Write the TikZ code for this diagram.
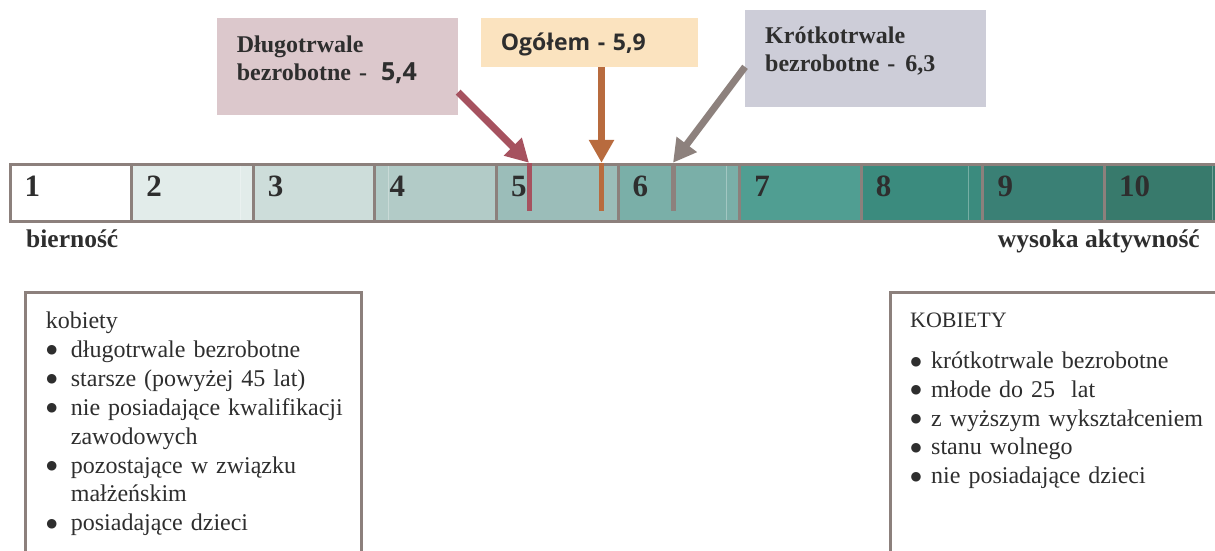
\documentclass[tikz,border=0pt]{standalone}
\usepackage{fontspec}
\setmainfont{Liberation Serif}
\newfontfamily\ogsans{Open Sans}
\newfontfamily\dotfont{DejaVu Sans}
\usetikzlibrary{arrows.meta}

\definecolor{frame}{HTML}{8C807C}
\definecolor{ink}{HTML}{2E2E2E}
\definecolor{cellA}{HTML}{FFFFFF}
\definecolor{cellB}{HTML}{E2ECEA}
\definecolor{cellC}{HTML}{CDDDDA}
\definecolor{cellD}{HTML}{B2CBC7}
\definecolor{cellE}{HTML}{9BBDB9}
\definecolor{cellF}{HTML}{7AAFA8}
\definecolor{cellG}{HTML}{509E92}
\definecolor{cellH}{HTML}{3B8B7E}
\definecolor{cellI}{HTML}{3A8075}
\definecolor{cellJ}{HTML}{387A6C}
\definecolor{redm}{HTML}{A6525F}
\definecolor{orangem}{HTML}{B86B3E}
\definecolor{graym}{HTML}{8D817D}
\definecolor{dlugoFill}{HTML}{DCC8CC}
\definecolor{ogolemFill}{HTML}{FBE3BF}
\definecolor{krotkoFill}{HTML}{CDCDD8}

\newcommand{\pkt}[1][25pt]{\makebox[#1][l]{\hspace*{0.5pt}\raisebox{3.5pt}{\dotfont\fontsize{12.5}{12.5}\selectfont ●}}}

\begin{document}
\begin{tikzpicture}[x=1pt, y=-1pt,
  cellnum/.style={font=\fontsize{31}{31}\selectfont\bfseries, text=ink, inner sep=0pt, anchor=base west},
  callout/.style={draw=none, inner sep=0pt, anchor=north west},
  calltext/.style={font=\fontsize{24}{28.3}\selectfont\bfseries, text=ink, inner sep=0pt, anchor=base west, align=left, text width=230pt},
  marker/.style={minimum width=5pt, minimum height=48pt, inner sep=0pt},
  pointer/.style={line width=7pt, -{Triangle[length=23pt, width=24pt]}},
  scaletext/.style={font=\fontsize{25.5}{25.5}\selectfont\bfseries, text=ink, inner sep=0pt},
  listtext/.style={font=\fontsize{24}{28.9}\selectfont, text=ink, inner sep=0pt, anchor=base west, align=left, text width=310pt},
]
\useasboundingbox (0,0) rectangle (1215,551);
\clip (0,0) rectangle (1215,551);

% skala 1-10
\foreach \n/\col in {1/cellA,2/cellB,3/cellC,4/cellD,5/cellE,6/cellF,7/cellG,8/cellH,9/cellI,10/cellJ}
{
    \pgfmathsetmacro{\xl}{10+121.6*(\n-1)}
    \pgfmathsetmacro{\xr}{\xl+121.6}
    \filldraw[fill=\col, draw=frame, line width=3pt] (\xl,164) rectangle (\xr,221.5);
    \node[cellnum] (n\n) at (\xl+14.5,196) {\n};
}
\foreach \x in {240,388,726,968,1212}
{
    \draw[white, opacity=.3, line width=1pt] (\x,165.5) -- (\x,220);
}

\node[scaletext, anchor=base west] (passive) at (26,247) {bierność};
\node[scaletext, anchor=base east] (active) at (1200,247) {wysoka aktywność};

% znaczniki
\node[marker, fill=redm] (m54) at (529,187) {};
\node[marker, fill=orangem] (m59) at (601.5,187) {};
\node[marker, fill=graym] (m63) at (673,187) {};

% opisy
\node[callout, fill=dlugoFill, minimum width=240.7pt, minimum height=96.7pt] (dlugo) at (217,18.3) {};
\node[callout, fill=ogolemFill, minimum width=216.7pt, minimum height=48.4pt] (ogolem) at (481,18.3) {};
\node[callout, fill=krotkoFill, minimum width=241pt, minimum height=96.7pt] (krotko) at (745,10) {};

\node[calltext] (dlugoTxt) at (236.7,52.5) {Długotrwale\\bezrobotne -\hspace{14pt}{\ogsans\fontsize{25}{25}\selectfont 5,4}};
\node[calltext, font=\ogsans\fontsize{23}{23}\selectfont\bfseries] (ogolemTxt) at (500.7,50.5) {Ogółem - 5,9};
\node[calltext, font=\fontsize{24}{28}\selectfont\bfseries] (krotkoTxt) at (765,44) {Krótkotrwale\\bezrobotne -\hspace{10pt}6,3};

\coordinate (s54) at ([yshift=-25.3pt]dlugo.east);
\coordinate (s63) at ([yshift=-8.3pt]krotko.west);
\draw[pointer, redm] (s54) -- (m54.north);
\draw[pointer, orangem] (ogolem.south -| m59.north) -- (m59.north);
\draw[pointer, graym] (s63) -- (m63.north);

% listy
\draw[frame, line width=3pt] (25,560) -- (25,292) -- (361.7,292) -- (361.7,560);
\node[listtext] (womenOld) at (45.7,328.5) {kobiety\\
\pkt długotrwale bezrobotne\\
\pkt starsze (powyżej 45 lat)\\
\pkt nie posiadające kwalifikacji\\
\hspace*{25pt}zawodowych\\
\pkt pozostające w związku\\
\hspace*{25pt}małżeńskim\\
\pkt posiadające dzieci};

\draw[frame, line width=3pt] (890,560) -- (890,292) -- (1230,292);
\node[listtext, font=\fontsize{22}{22}\selectfont] (womenYoungHead) at (910,327.5) {KOBIETY};
\node[listtext, font=\fontsize{24}{28.75}\selectfont] (womenYoung) at (910,368.5) {\pkt[21pt]krótkotrwale bezrobotne\\
\pkt[21pt]młode do 25~ lat\\
\pkt[21pt]z wyższym wykształceniem\\
\pkt[21pt]stanu wolnego\\
\pkt[21pt]nie posiadające dzieci};

\end{tikzpicture}
\end{document}
